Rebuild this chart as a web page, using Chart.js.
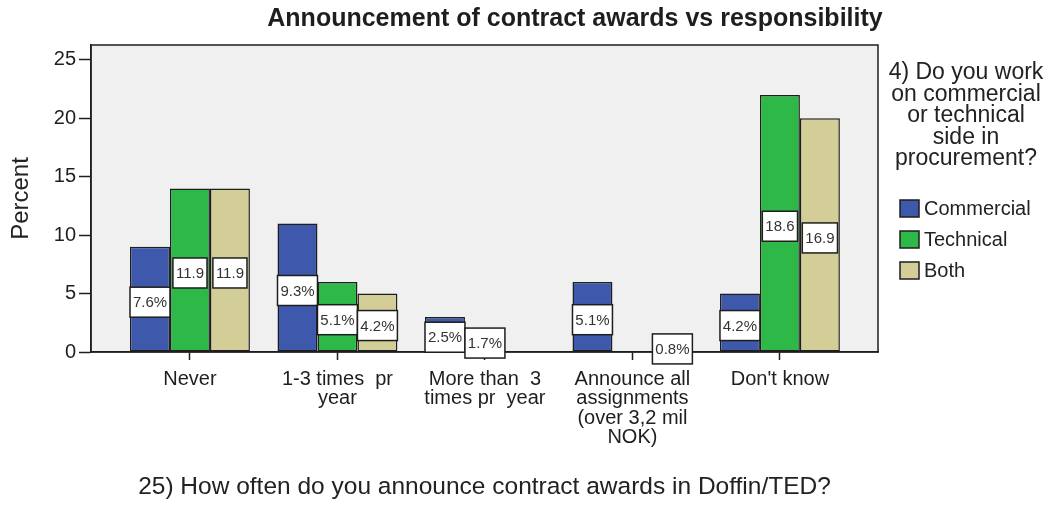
<!DOCTYPE html>
<html>
<head>
<meta charset="utf-8">
<script src="https://cdn.jsdelivr.net/npm/chart.js@4.4.1/dist/chart.umd.min.js"></script>
<style>
body { margin: 0; background: #fff; }
#cadre { width: 1047px; height: 505px; }
</style>
</head>
<body>
<div id="cadre"><canvas id="graphique" width="1047" height="505"></canvas></div>
<script>
// effectifs par réponse (hauteur des barres), les étiquettes donnent le % du total
var categories = ['Never', ['1-3 times  pr', 'year'], ['More than  3', 'times pr  year'], ['Announce all', 'assignments', '(over 3,2 mil', 'NOK)'], "Don't know"];
var commercial = [9, 11, 3, 6, 5];
var technical = [14, 6, 2, 0, 22];
var both = [14, 5, 0, 1, 20];
var yTicks = [0, 5, 10, 15, 20, 25];
var seriesNames = ['Commercial', 'Technical', 'Both'];
var seriesColors = ['#3e58ac', '#2eb848', '#d3ce97'];
var legendTitle = ['4) Do you work', 'on commercial', 'or technical', 'side in', 'procurement?'];
var chartTitle = 'Announcement of contract awards vs responsibility';
var xTitle = '25) How often do you announce contract awards in Doffin/TED?';
var yTitle = 'Percent';

var police = '"Liberation Sans", Arial, sans-serif';
var encre = '#1e1e1e';

var total = 0;
[commercial, technical, both].forEach(function(serie) {
    serie.forEach(function(v) { total += v; });
});

function texteEtiquette(v) {
    var pct = v / total * 100;
    return pct >= 10 ? pct.toFixed(1) : pct.toFixed(1) + '%';
}

var fondGraphique = {
    id: 'fondGraphique',
    beforeDraw: function(chart) {
        var a = chart.chartArea;
        var ctx = chart.ctx;
        ctx.save();
        ctx.fillStyle = '#f0f0f0';
        ctx.fillRect(a.left, a.top, a.right - a.left, a.bottom - a.top);
        ctx.restore();
    }
};

var habillage = {
    id: 'habillage',
    afterDraw: function(chart) {
        var ctx = chart.ctx;
        var a = chart.chartArea;
        ctx.save();

        // cadre du graphique
        ctx.strokeStyle = encre;
        ctx.lineWidth = 1.5;
        ctx.strokeRect(a.left, a.top, a.right - a.left, a.bottom - a.top);

        // étiquettes en boîte au milieu de chaque barre
        ctx.font = '15px ' + police;
        ctx.textAlign = 'center';
        ctx.textBaseline = 'middle';
        chart.data.datasets.forEach(function(ds, i) {
            var meta = chart.getDatasetMeta(i);
            meta.data.forEach(function(el, j) {
                var v = ds.data[j];
                if (!v) return;
                var txt = texteEtiquette(v);
                var w = Math.min(el.width, ctx.measureText(txt).width + 6);
                var h = 30;
                var cy = (el.y + el.base) / 2 + 3;
                ctx.fillStyle = '#ffffff';
                ctx.fillRect(el.x - w / 2, cy - h / 2, w, h);
                ctx.strokeStyle = encre;
                ctx.lineWidth = 1.5;
                ctx.strokeRect(el.x - w / 2, cy - h / 2, w, h);
                ctx.fillStyle = '#333333';
                ctx.fillText(txt, el.x, cy + 1);
            });
        });

        // titre
        ctx.fillStyle = encre;
        ctx.font = 'bold 25px ' + police;
        ctx.fillText(chartTitle, 575, 19);

        // légende
        ctx.font = '23px ' + police;
        ctx.fillStyle = '#222222';
        legendTitle.forEach(function(ligne, k) {
            ctx.fillText(ligne, 966, 73 + k * 21.5);
        });
        ctx.font = '20px ' + police;
        ctx.textAlign = 'left';
        chart.data.datasets.forEach(function(ds, i) {
            var y = 208 + i * 31;
            ctx.fillStyle = ds.backgroundColor;
            ctx.fillRect(900, y - 8, 19, 17);
            ctx.strokeStyle = encre;
            ctx.lineWidth = 1.5;
            ctx.strokeRect(900, y - 8, 19, 17);
            ctx.fillStyle = '#222222';
            ctx.fillText(ds.label, 924, y + 1);
        });
        ctx.restore();
    }
};

var datasets = [commercial, technical, both].map(function(serie, i) {
    return {
        label: seriesNames[i],
        data: serie,
        backgroundColor: seriesColors[i],
        borderColor: encre,
        borderWidth: function(c) { return c.raw ? 1.5 : 0; },
        borderSkipped: false,
        categoryPercentage: 0.813,
        barPercentage: 1
    };
});

var ctx = document.getElementById('graphique').getContext('2d');
var chart = new Chart(ctx, {
    type: 'bar',
    data: {
        labels: categories.map(function(c, i) { return i; }),
        datasets: datasets
    },
    plugins: [fondGraphique, habillage],
    options: {
        responsive: false,
        animation: false,
        devicePixelRatio: 1,
        layout: { padding: { top: 45, right: 169, left: 0, bottom: 0 } },
        plugins: {
            legend: { display: false },
            tooltip: { enabled: false }
        },
        scales: {
            x: {
                type: 'linear',
                offset: false,
                min: -0.671,
                max: 4.665,
                afterBuildTicks: function(scale) {
                    scale.ticks = categories.map(function(c, i) { return { value: i }; });
                },
                afterFit: function(scale) { scale.height = 153; },
                ticks: {
                    callback: function(v) { return categories[v]; },
                    color: encre,
                    font: { family: police, size: 20, lineHeight: 0.965 },
                    padding: 10,
                    maxRotation: 0,
                    autoSkip: false
                },
                grid: { drawOnChartArea: false, offset: false, tickLength: 8, color: encre, tickWidth: 1.5 },
                border: { color: encre, width: 1.5 },
                title: {
                    display: true,
                    text: xTitle,
                    color: '#222222',
                    font: { family: police, size: 24.5 },
                    padding: { top: 4, bottom: 3 }
                }
            },
            y: {
                min: 0,
                max: 26.28,
                afterBuildTicks: function(scale) {
                    scale.ticks = yTicks.map(function(v) { return { value: v }; });
                },
                afterFit: function(scale) { scale.width = 91; },
                ticks: {
                    color: encre,
                    font: { family: police, size: 20 },
                    padding: 3
                },
                grid: { drawOnChartArea: false, tickLength: 12, color: encre, tickWidth: 1.5 },
                border: { color: encre, width: 1.5 },
                title: {
                    display: true,
                    text: yTitle,
                    color: '#222222',
                    font: { family: police, size: 24 },
                    padding: { top: 7, bottom: 0 }
                }
            }
        }
    }
});
</script>
</body>
</html>
